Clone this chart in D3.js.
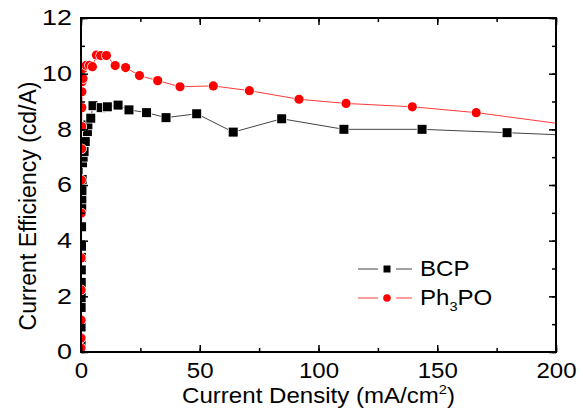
<!DOCTYPE html>
<html>
<head>
<meta charset="utf-8">
<script src="https://cdn.jsdelivr.net/npm/d3@7"></script>
<style>
  body { margin: 0; background: #fff; }
  svg { display: block; }
  text { font-family: Arial, "Liberation Sans", sans-serif; fill: #000; }
</style>
</head>
<body>
<svg id="chart" width="583" height="420"></svg>
<script>
// BCP (black squares)
const bcpX = [0.02, 0.04, 0.06, 0.08, 0.1, 0.13, 0.16, 0.2, 0.25, 0.3, 0.35, 0.4, 0.5, 0.65, 0.9,
              1.3, 1.8, 2.7, 2.9, 4.1, 5.05, 8.5, 11.1, 15.6, 20.2, 27.6, 35.8, 48.7, 64.1,
              84.5, 110.7, 143.6, 179.4, 225];
const bcpY = [0.3, 0.9, 1.6, 1.95, 2.5, 2.95, 3.4, 3.8, 4.5, 5.2, 5.5, 5.8, 6.2, 6.8, 7.0,
              7.2, 7.56, 7.92, 8.16, 8.4, 8.85, 8.78, 8.81, 8.87, 8.7, 8.6, 8.42, 8.56, 7.9,
              8.38, 8.0, 8.0, 7.88, 7.72];

// Ph3PO (red circles)
const phX = [0.01, 0.02, 0.04, 0.06, 0.08, 0.12, 0.16, 0.22, 0.3, 0.35, 0.4, 0.45, 0.85, 0.9,
             2.2, 3.6, 4.8, 6.5, 8.3, 10.7, 14.4, 18.8, 24.6, 32.3, 41.7, 55.7, 70.9, 91.8,
             111.6, 139.5, 166.4, 215];
const phY = [0.14, 0.5, 1.15, 2.23, 3.38, 4.99, 6.18, 7.3, 8.1, 8.78, 9.35, 9.71, 9.83, 10.19,
             10.3, 10.3, 10.25, 10.67, 10.65, 10.65, 10.29, 10.22, 9.93, 9.75, 9.53, 9.56, 9.39,
             9.08, 8.93, 8.81, 8.6, 8.05];

const xTicks = [0, 50, 100, 150, 200];
const yTicks = [0, 2, 4, 6, 8, 10, 12];

const svg = d3.select("#chart");
const m = { left: 81, right: 556, top: 18, bottom: 352 };

const x = d3.scaleLinear().domain([0, 200]).range([m.left, m.right]);
const y = d3.scaleLinear().domain([0, 12]).range([m.bottom, m.top]);

svg.append("defs").append("clipPath").attr("id", "clip")
  .append("rect")
  .attr("x", m.left).attr("y", m.top)
  .attr("width", m.right - m.left).attr("height", m.bottom - m.top);

const plot = svg.append("g").attr("clip-path", "url(#clip)");

const bcp = bcpX.map((v, i) => ({ x: v, y: bcpY[i] }));
const ph = phX.map((v, i) => ({ x: v, y: phY[i] }));

const line = d3.line().x(d => x(d.x)).y(d => y(d.y));

plot.append("path").datum(bcp)
  .attr("d", line).attr("fill", "none")
  .attr("stroke", "#444").attr("stroke-width", 1);
plot.append("path").datum(ph)
  .attr("d", line).attr("fill", "none")
  .attr("stroke", "#ff3a3a").attr("stroke-width", 1);

// markers with white halo for the broken-line look
plot.selectAll(".sq").data(bcp).enter().append("rect")
  .attr("class", "sq")
  .attr("x", d => x(d.x) - 4.5).attr("y", d => y(d.y) - 4.5)
  .attr("width", 9).attr("height", 9)
  .attr("fill", "#000").attr("stroke", "#fff").attr("stroke-width", 1.5)
  .attr("paint-order", "stroke");

plot.selectAll(".ci").data(ph).enter().append("circle")
  .attr("class", "ci")
  .attr("cx", d => x(d.x)).attr("cy", d => y(d.y)).attr("r", 4.6)
  .attr("fill", "#ff0000").attr("stroke", "#fff").attr("stroke-width", 1.5)
  .attr("paint-order", "stroke");

// axes: ticks inward on all four sides
const fontSize = 21.5;
const sx = 1.12;   // the original text is a bit wider than Arial
const axG = svg.append("g");

function ticksInside(axis, len) {
  return axis.tickSizeInner(-len).tickSizeOuter(0).tickPadding(0);
}

const xMinor = d3.range(0, 201, 25);
const yMinor = d3.range(0, 13, 1);

// minor ticks
axG.append("g").attr("transform", `translate(0,${m.bottom})`)
  .call(ticksInside(d3.axisBottom(x).tickValues(xMinor).tickFormat(""), 4));
axG.append("g").attr("transform", `translate(0,${m.top})`)
  .call(ticksInside(d3.axisTop(x).tickValues(xMinor).tickFormat(""), 4));
axG.append("g").attr("transform", `translate(${m.left},0)`)
  .call(ticksInside(d3.axisLeft(y).tickValues(yMinor).tickFormat(""), 4));
axG.append("g").attr("transform", `translate(${m.right},0)`)
  .call(ticksInside(d3.axisRight(y).tickValues(yMinor).tickFormat(""), 4));

// major ticks
const xAx = axG.append("g").attr("transform", `translate(0,${m.bottom})`)
  .call(d3.axisBottom(x).tickValues(xTicks).tickSizeInner(-7).tickSizeOuter(0).tickPadding(11));
axG.append("g").attr("transform", `translate(0,${m.top})`)
  .call(ticksInside(d3.axisTop(x).tickValues(xTicks).tickFormat(""), 7));
const yAx = axG.append("g").attr("transform", `translate(${m.left},0)`)
  .call(d3.axisLeft(y).tickValues(yTicks).tickSizeInner(-7).tickSizeOuter(0).tickPadding(9));
axG.append("g").attr("transform", `translate(${m.right},0)`)
  .call(ticksInside(d3.axisRight(y).tickValues(yTicks).tickFormat(""), 7));

axG.selectAll(".domain").remove();
axG.selectAll(".tick line").attr("stroke", "#000").attr("stroke-width", 1.5);

function stretch(sel, k) {
  sel.attr("font-size", fontSize)
    .attr("font-family", "Arial, 'Liberation Sans', sans-serif").attr("fill", "#000")
    .each(function() {
      const t = d3.select(this);
      const x0 = +t.attr("x") || 0;
      t.attr("x", x0 / k).attr("transform", `scale(${k},1)`);
    });
}
stretch(xAx.selectAll("text"), sx);
stretch(yAx.selectAll("text"), 1.25);

// frame
svg.append("rect")
  .attr("x", m.left).attr("y", m.top)
  .attr("width", m.right - m.left).attr("height", m.bottom - m.top)
  .attr("fill", "none").attr("stroke", "#000").attr("stroke-width", 2);

// axis titles
const xc = (m.left + m.right) / 2;
const xt = svg.append("text")
  .attr("transform", `translate(${xc},403) scale(${sx},1)`)
  .attr("text-anchor", "middle").attr("font-size", fontSize);
xt.append("tspan").text("Current Density (mA/cm");
xt.append("tspan").attr("font-size", 13).attr("dy", -9).text("2");
xt.append("tspan").attr("dy", 9).text(")");

svg.append("text")
  .attr("transform", `translate(36,206) scale(1.05,1) rotate(-90)`)
  .attr("text-anchor", "middle").attr("font-size", 23)
  .text("Current Efficiency (cd/A)");

// legend
const legend = svg.append("g");
const legendRows = [
  { name: "BCP", line: "#444", color: "#000", shape: "square", cy: 269 },
  { name: "Ph3PO", line: "#ff3a3a", color: "#ff0000", shape: "circle", cy: 298 }
];
legendRows.forEach(r => {
  const g = legend.append("g").attr("transform", `translate(0,${r.cy})`);
  g.append("line").attr("x1", 358).attr("x2", 378).attr("stroke", r.line);
  g.append("line").attr("x1", 396).attr("x2", 412).attr("stroke", r.line);
  if (r.shape === "square") {
    g.append("rect").attr("x", 383.5).attr("y", -3.5).attr("width", 7).attr("height", 7).attr("fill", r.color);
  } else {
    g.append("circle").attr("cx", 387).attr("cy", 0).attr("r", 3.8).attr("fill", r.color);
  }
  const t = g.append("text").attr("transform", `translate(420,7) scale(${sx},1)`)
    .attr("font-size", fontSize);
  if (r.name === "Ph3PO") {
    t.append("tspan").text("Ph");
    t.append("tspan").attr("font-size", 13).attr("dy", 6).text("3");
    t.append("tspan").attr("dy", -6).text("PO");
  } else {
    t.text(r.name);
  }
});
</script>
</body>
</html>
